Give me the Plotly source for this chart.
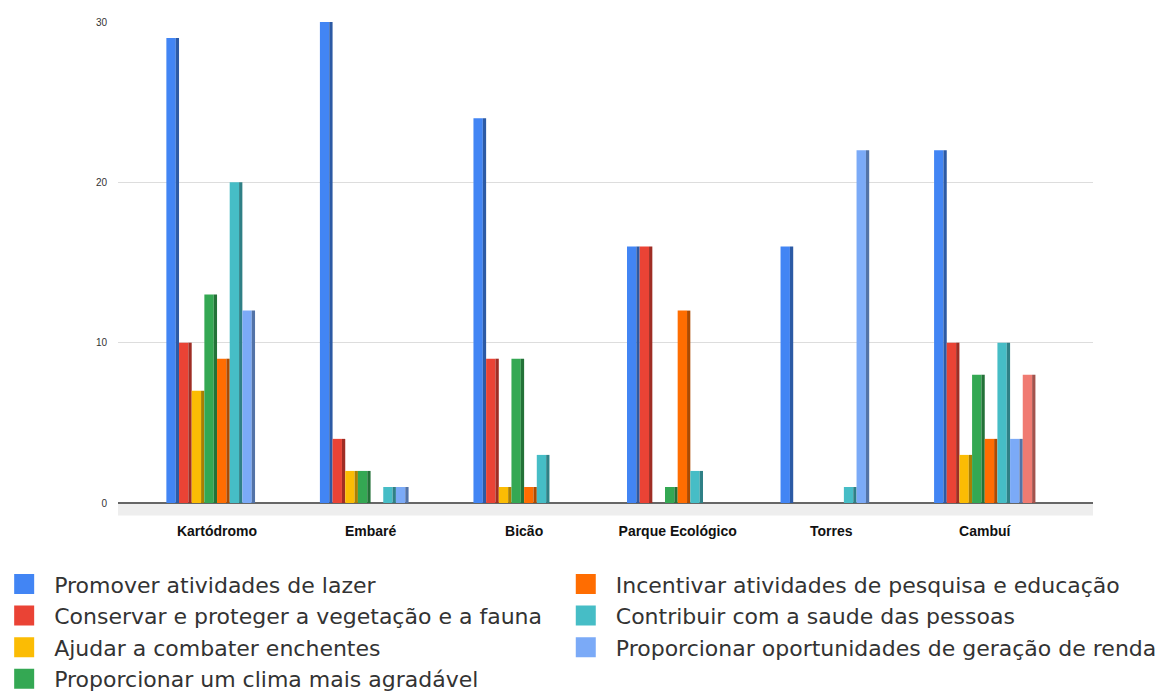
import plotly.graph_objects as go

# ---------------------------
# Data
# ---------------------------
locais = ["Kartódromo", "Embaré", "Bicão", "Parque Ecológico", "Torres", "Cambuí"]

lazer = [29, 30, 24, 16, 16, 22]
vegetacao = [10, 4, 9, 16, 0, 10]
enchentes = [7, 2, 1, 0, 0, 3]
clima = [13, 2, 9, 1, 0, 8]
pesquisa = [9, 0, 1, 12, 0, 4]
saude = [20, 1, 3, 2, 1, 10]
renda = [12, 1, 0, 0, 22, 4]
outros = [0, 0, 0, 0, 0, 8]

series = [
    ("Promover atividades de lazer", lazer, "#4285F4", "legend"),
    ("Conservar e proteger a vegetação e a fauna", vegetacao, "#EA4335", "legend"),
    ("Ajudar a combater enchentes", enchentes, "#FBBC04", "legend"),
    ("Proporcionar um clima mais agradável", clima, "#34A853", "legend"),
    ("Incentivar atividades de pesquisa e educação", pesquisa, "#FF6D01", "legend2"),
    ("Contribuir com a saude das pessoas", saude, "#46BDC6", "legend2"),
    ("Proporcionar oportunidades de geração de renda", renda, "#7BAAF7", "legend2"),
    ("Outros", outros, "#F07B72", None),
]


def darker(hexcol, f=0.68):
    h = hexcol.lstrip("#")
    r, g, b = (int(h[i:i + 2], 16) for i in (0, 2, 4))
    return f"rgb({int(r * f)},{int(g * f)},{int(b * f)})"


# bar geometry (category units) -- mimics the pseudo-3D bars
group_w = 0.66
slot = group_w / len(series)
front_w = slot * 0.74
side_w = slot - front_w

fig = go.Figure()
for i, (name, vals, color, leg) in enumerate(series):
    off = -group_w / 2 + i * slot
    fig.add_trace(go.Bar(x=locais, y=vals, name=name, offset=off, width=front_w,
                         marker=dict(color=color, line_width=0), showlegend=False, hoverinfo="x+y+name"))
    fig.add_trace(go.Bar(x=locais, y=vals, name=name, offset=off + front_w, width=side_w,
                         marker=dict(color=darker(color), line_width=0), showlegend=False, hoverinfo="skip"))
    if leg:
        # legend entry with a large square swatch
        fig.add_trace(go.Scatter(x=[None], y=[None], mode="markers", name=name, legend=leg,
                                 marker=dict(symbol="square", size=16, color=color,
                                             line=dict(color=color, width=4))))

# floor band under the bars
fig.add_shape(type="rect", xref="paper", yref="paper", x0=0, x1=1, y0=-0.026, y1=0,
              fillcolor="#eeeeee", line_width=0, layer="below")

# page body has an 8px margin, so the figure is 8px smaller and shifted
legend_font = dict(family="DejaVu Sans, sans-serif", size=22, color="#333333")
fig.update_layout(
    barmode="overlay",
    plot_bgcolor="white", paper_bgcolor="white",
    width=1165, height=685,
    margin=dict(l=110, r=80, t=14, b=190, autoexpand=False),
    xaxis=dict(range=[-0.645, 5.705], showgrid=False, showline=False, ticks="",
               ticklabelstandoff=18,
               tickfont=dict(family="Liberation Sans, Arial, sans-serif", size=14, color="#111111", weight="bold")),
    yaxis=dict(range=[0, 30], tickvals=[0, 10, 20, 30], showgrid=True, gridcolor="#dddddd",
               zeroline=True, zerolinecolor="#666666", zerolinewidth=2,
               ticklabelstandoff=10,
               tickfont=dict(family="Liberation Sans, Arial, sans-serif", size=10, color="#333333")),
    legend=dict(x=-0.127, y=-0.125, xanchor="left", yanchor="top", orientation="v",
                font=legend_font, bgcolor="rgba(0,0,0,0)", tracegroupgap=0,
                itemsizing="trace", itemwidth=50),
    legend2=dict(x=0.449, y=-0.125, xanchor="left", yanchor="top", orientation="v",
                 font=legend_font, bgcolor="rgba(0,0,0,0)", tracegroupgap=0,
                 itemsizing="trace", itemwidth=50),
    showlegend=True,
)

fig.write_html("out.html")
